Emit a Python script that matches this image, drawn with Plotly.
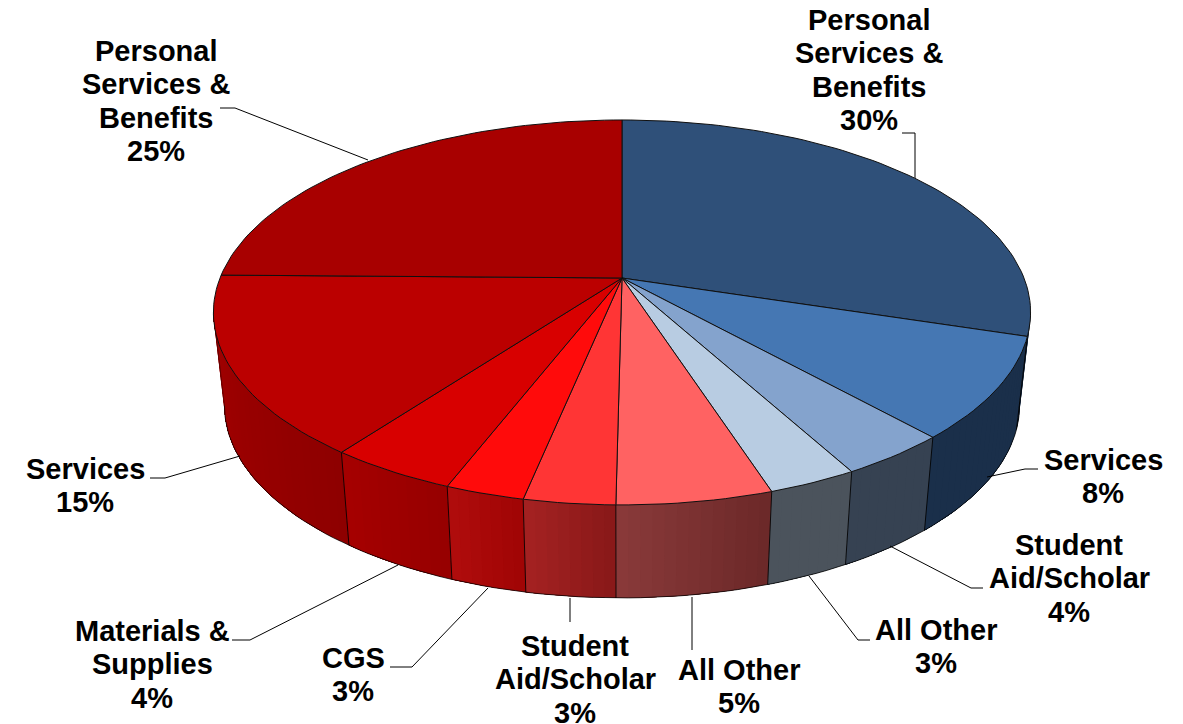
"""Two-year budget split drawn as a tilted 3D pie."""

import math

import plotly.graph_objects as go

# Slice shares, clockwise from twelve o'clock
categories = [
    "Personal Services & Benefits",
    "Services",
    "Student Aid/Scholar",
    "All Other",
    "All Other",
    "Student Aid/Scholar",
    "CGS",
    "Materials & Supplies",
    "Services",
    "Personal Services & Benefits",
]
shares = [29.8, 8.5, 3.7, 3.0, 5.2, 3.05, 2.65, 4.3, 15.05, 24.75]
percent_labels = ["30%", "8%", "4%", "3%", "5%", "3%", "3%", "4%", "15%", "25%"]

top_colors = [
    "#2F5079", "#4577B3", "#84A3CD", "#B8CCE2", "#FF6262",
    "#FF3535", "#FF0B0B", "#D80000", "#BB0000", "#A80000",
]
# wall colours, screen left and screen right
wall_colors = [
    ("#1A2F4A", "#1A2F4A"), ("#1A2F4A", "#1A2F4A"), ("#364252", "#364252"),
    ("#4B535C", "#4B535C"), ("#8A3A3A", "#6B2828"), ("#A52222", "#881818"),
    ("#B00C0C", "#A00505"), ("#A60000", "#960000"), ("#A20000", "#8E0000"),
    ("#A80000", "#A80000"),
]

# Text lines per label, first line x / y, and the leader line next to it
label_text_lines = [
    ["Personal", "Services &", "Benefits", "30%"],
    ["Services", "8%"],
    ["Student", "Aid/Scholar", "4%"],
    ["All Other", "3%"],
    ["All Other", "5%"],
    ["Student", "Aid/Scholar", "3%"],
    ["CGS", "3%"],
    ["Materials &", "Supplies", "4%"],
    ["Services", "15%"],
    ["Personal", "Services &", "Benefits", "25%"],
]
label_anchor = [
    (869, 20), (1103, 460), (1069, 545), (936, 630), (739, 670),
    (575, 646), (353, 658), (152, 631), (85, 469), (156, 51),
]
leader_lines = [
    [(902, 133), (915, 133), (915, 178)],
    [(1038, 469), (1025, 469), (987, 477)],
    [(983, 588), (971, 588), (890, 546)],
    [(870, 640), (858, 640), (809, 576)],
    [(692, 650), (692, 597)],
    [(570, 622), (570, 598)],
    [(390, 667), (412, 667), (488, 588)],
    [(232, 640), (250, 640), (398, 565)],
    [(150, 478), (165, 478), (240, 456)],
    [(220, 108), (235, 108), (368, 160)],
]

APEX_X, APEX_Y = 622, 278
SPREAD_X, SPREAD_Y = 402, 186.3
TILT = 0.179
DEPTH = 93
BOTTOM_SCALE = 0.973
LINE_SPACING = 33.3
# the page keeps its 8px body margin, so the plot starts there
PAGE_MARGIN = 8
# angle where the projected rim is widest, the wall ends there on both sides
WALL_START = math.degrees(math.acos(-TILT))
WALL_END = 360 - WALL_START


def _top_rim(angle):
    """Perspective projection of the rim point at a clockwise angle in degrees."""
    u = math.sin(math.radians(angle))
    v = math.cos(math.radians(angle))
    w = 1 + TILT * v
    return APEX_X + SPREAD_X * u / w, APEX_Y - SPREAD_Y * v / w


def _bottom_rim(angle):
    x, y = _top_rim(angle)
    return APEX_X + (x - APEX_X) * BOTTOM_SCALE, y + DEPTH


def _angles(start, end, step=1.5):
    count = max(1, math.ceil((end - start) / step))
    return [start + (end - start) * i / count for i in range(count + 1)]


def _mix(left, right, t):
    a = [int(left[i : i + 2], 16) for i in (1, 3, 5)]
    b = [int(right[i : i + 2], 16) for i in (1, 3, 5)]
    return "rgb({},{},{})".format(*[round(p + (q - p) * t) for p, q in zip(a, b)])


def _line(fig, points, color="#000000", width=1.0):
    fig.add_scatter(
        x=[p[0] for p in points],
        y=[p[1] for p in points],
        mode="lines",
        line={"color": color, "width": width},
        hoverinfo="skip",
    )


fig = go.Figure()

total = sum(shares)
edges = [0]
for share in shares:
    edges.append(edges[-1] + share / total * 360)

# Walls first. Each strip runs on to the end of its slice and the next one
# paints over it, which keeps seams out of the gradient.
for index, (left, right) in enumerate(wall_colors):
    start = max(edges[index], WALL_START)
    end = min(edges[index + 1], WALL_END)
    if end <= start:
        continue
    steps = _angles(start, end)
    for a, b in zip(steps, steps[1:]):
        # angle grows from screen right to screen left on the near side
        color = _mix(right, left, ((a + b) / 2 - start) / (end - start))
        rest = _angles(a, end)
        strip = [_top_rim(t) for t in rest] + [_bottom_rim(t) for t in reversed(rest)]
        strip.append(strip[0])
        fig.add_scatter(
            x=[p[0] for p in strip],
            y=[p[1] for p in strip],
            mode="lines",
            fill="toself",
            fillcolor=color,
            line={"color": color, "width": 0},
            hoverinfo="skip",
        )

# Wall outlines
_line(fig, [_bottom_rim(a) for a in _angles(WALL_START, WALL_END)], "rgba(0,0,0,0.75)")
for edge in edges[1:-1]:
    if WALL_START < edge < WALL_END:
        _line(fig, [_top_rim(edge), _bottom_rim(edge)], "rgba(0,0,0,0.85)")
_line(fig, [_top_rim(WALL_END), _bottom_rim(WALL_END)], "rgba(0,0,0,0.4)")
_line(fig, [_top_rim(WALL_START), _bottom_rim(WALL_START)], "rgba(0,0,0,0.4)")

# Top faces
for index, color in enumerate(top_colors):
    rim = [_top_rim(a) for a in _angles(edges[index], edges[index + 1])]
    outline = [(APEX_X, APEX_Y)] + rim + [(APEX_X, APEX_Y)]
    fig.add_scatter(
        x=[p[0] for p in outline],
        y=[p[1] for p in outline],
        mode="lines",
        fill="toself",
        fillcolor=color,
        line={"color": "#101010", "width": 1},
        name=f"{categories[index]} {percent_labels[index]}",
        hoverinfo="name",
    )

# Leaders and labels
for leader in leader_lines:
    _line(fig, leader)

for lines, (x, y) in zip(label_text_lines, label_anchor):
    for number, text in enumerate(lines):
        fig.add_annotation(
            x=x,
            y=y + number * LINE_SPACING,
            text=f"<b>{text}</b>",
            showarrow=False,
            xanchor="center",
            yanchor="middle",
            font={"family": "Liberation Sans", "size": 29, "color": "#000000"},
        )

fig.update_xaxes(range=[PAGE_MARGIN, 1183], visible=False, fixedrange=True)
fig.update_yaxes(range=[724, PAGE_MARGIN], visible=False, fixedrange=True)
fig.update_layout(
    width=1183 - PAGE_MARGIN,
    height=724 - PAGE_MARGIN,
    margin={"l": 0, "r": 0, "t": 0, "b": 0},
    paper_bgcolor="#FFFFFF",
    plot_bgcolor="#FFFFFF",
    showlegend=False,
)

fig.write_html("out.html")
